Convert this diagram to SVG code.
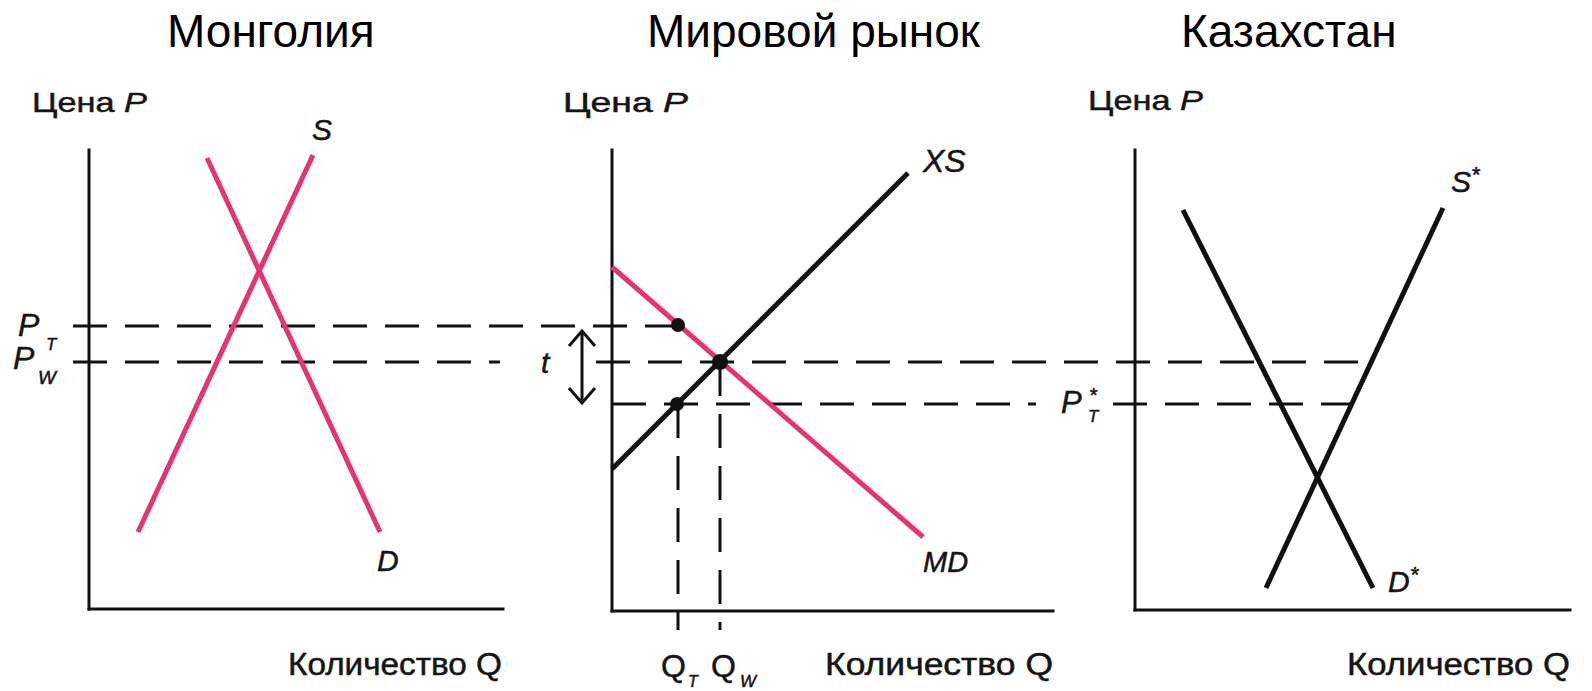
<svg xmlns="http://www.w3.org/2000/svg" width="1592" height="691" viewBox="0 0 1592 691">
<style>
.title{font-family:"Liberation Sans",Arial,sans-serif;font-size:46px;fill:#000}
.lbl{font-family:"Liberation Sans",Arial,sans-serif;fill:#151515;stroke:#151515;stroke-width:0.5}
.it{font-style:italic}
.axis{stroke:#111;stroke-width:3;fill:none;stroke-linecap:square}
.pink{stroke:#e4356c;stroke-width:5;fill:none;stroke-linecap:butt}
.blk{stroke:#111;stroke-width:5;fill:none}
.dash{stroke:#111;stroke-width:3;fill:none;stroke-dasharray:34 18}
.arr{stroke:#111;stroke-width:3;fill:none}
</style>
<rect width="1592" height="691" fill="#fff"/>

<g id="titles">
<text class="title" x="167" y="47">Монголия</text>
<text class="title" x="647" y="47">Мировой рынок</text>
<text class="title" x="1181" y="47">Казахстан</text>
</g>

<g id="connectors">
<line class="dash" x1="73" y1="326" x2="676" y2="326"/>
<line class="dash" x1="73" y1="362" x2="500" y2="362"/>
<line class="dash" x1="596" y1="362" x2="1368" y2="362"/>
<line class="dash" x1="612" y1="404" x2="1036" y2="404"/>
<line class="dash" x1="1113" y1="404" x2="1350" y2="404"/>
<line class="dash" x1="678" y1="404" x2="678" y2="630"/>
<line class="dash" x1="720" y1="362" x2="720" y2="630"/>
<g id="tariff-arrow">
<line class="arr" x1="582" y1="331" x2="582" y2="403"/>
<polyline class="arr" points="569,346 582,331 595,346"/>
<polyline class="arr" points="569,388 582,403 595,388"/>
</g>
</g>

<g id="mongolia">
<line class="axis" x1="89" y1="150" x2="89" y2="609"/>
<line class="axis" x1="89" y1="609" x2="503" y2="609"/>
<text class="lbl" x="32" y="112" font-size="28" textLength="115" lengthAdjust="spacingAndGlyphs">Цена <tspan class="it">P</tspan></text>
<text class="lbl" x="288" y="675" font-size="31" textLength="214" lengthAdjust="spacingAndGlyphs">Количество Q</text>
<line class="pink" x1="138" y1="532" x2="313" y2="155"/>
<line class="pink" x1="207" y1="158" x2="380" y2="532"/>
<text class="lbl it" x="312" y="140" font-size="30">S</text>
<text class="lbl it" x="377" y="571" font-size="30">D</text>
<text class="lbl it" x="18" y="336" font-size="32">P</text>
<text class="lbl it" x="46" y="350" font-size="17">T</text>
<text class="lbl it" x="13" y="369" font-size="32">P</text>
<text class="lbl it" x="38" y="384" font-size="19">W</text>
</g>

<g id="world-market">
<line class="axis" x1="612" y1="150" x2="612" y2="611"/>
<line class="axis" x1="612" y1="611" x2="1053" y2="611"/>
<text class="lbl" x="563" y="112" font-size="28" textLength="125" lengthAdjust="spacingAndGlyphs">Цена <tspan class="it">P</tspan></text>
<text class="lbl" x="825" y="675" font-size="31" textLength="228" lengthAdjust="spacingAndGlyphs">Количество Q</text>
<line class="pink" x1="612" y1="267" x2="923" y2="537"/>
<line class="blk" x1="612" y1="469" x2="908" y2="173"/>
<circle cx="678" cy="325" r="7" fill="#111"/>
<circle cx="720" cy="362" r="8" fill="#111"/>
<circle cx="677" cy="404" r="7" fill="#111"/>
<text class="lbl it" x="923" y="172" font-size="32">XS</text>
<text class="lbl it" x="923" y="572" font-size="29">MD</text>
<text class="lbl it" x="541" y="373" font-size="30">t</text>
<text class="lbl" x="661" y="677" font-size="32">Q</text>
<text class="lbl it" x="688" y="687" font-size="16">T</text>
<text class="lbl" x="711" y="677" font-size="32">Q</text>
<text class="lbl it" x="740" y="687" font-size="17">W</text>
</g>

<g id="kazakhstan">
<line class="axis" x1="1135" y1="150" x2="1135" y2="610"/>
<line class="axis" x1="1135" y1="610" x2="1570" y2="610"/>
<text class="lbl" x="1088" y="110" font-size="28" textLength="115" lengthAdjust="spacingAndGlyphs">Цена <tspan class="it">P</tspan></text>
<text class="lbl" x="1347" y="675" font-size="31" textLength="223" lengthAdjust="spacingAndGlyphs">Количество Q</text>
<line class="blk" x1="1183" y1="210" x2="1373" y2="588"/>
<line class="blk" x1="1266" y1="588" x2="1443" y2="208"/>
<text class="lbl it" x="1451" y="192" font-size="30">S<tspan font-size="22" dy="-10">*</tspan></text>
<text class="lbl it" x="1388" y="592" font-size="30">D<tspan font-size="22" dy="-10">*</tspan></text>
<text class="lbl it" x="1061" y="413" font-size="31">P</text>
<text class="lbl it" x="1089" y="402" font-size="20">*</text>
<text class="lbl it" x="1088" y="422" font-size="17">T</text>
</g>
</svg>
